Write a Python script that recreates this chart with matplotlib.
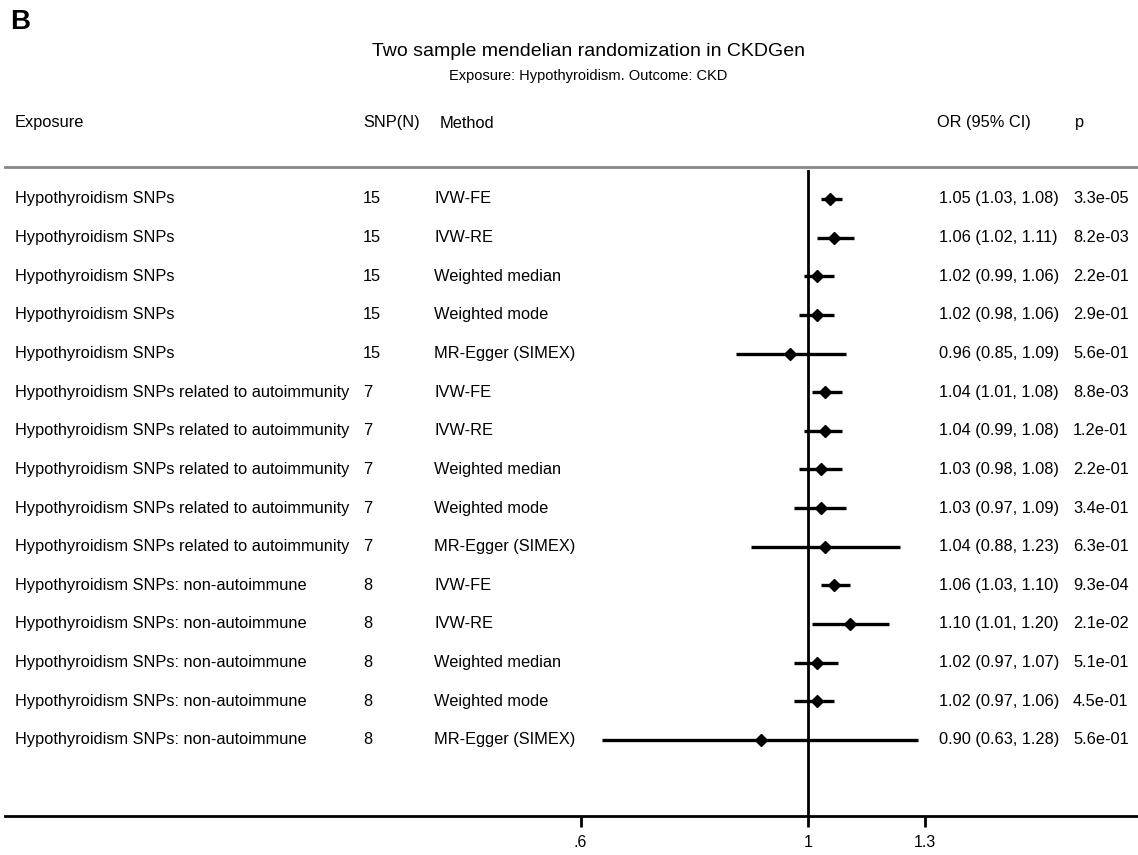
import matplotlib
matplotlib.use("Agg")
import matplotlib.pyplot as plt
from matplotlib.lines import Line2D
from matplotlib.transforms import blended_transform_factory
import numpy as np

plt.rcParams['font.family'] = ['Liberation Sans', 'DejaVu Sans']

exposures = (["Hypothyroidism SNPs"] * 5
             + ["Hypothyroidism SNPs related to autoimmunity"] * 5
             + ["Hypothyroidism SNPs: non-autoimmune"] * 5)
snp_n = ["15"] * 5 + ["7"] * 5 + ["8"] * 5
methods = ["IVW-FE", "IVW-RE", "Weighted median", "Weighted mode", "MR-Egger (SIMEX)"] * 3
or_est = [1.05, 1.06, 1.02, 1.02, 0.96,
          1.04, 1.04, 1.03, 1.03, 1.04,
          1.06, 1.10, 1.02, 1.02, 0.90]
ci_lo = [1.03, 1.02, 0.99, 0.98, 0.85,
         1.01, 0.99, 0.98, 0.97, 0.88,
         1.03, 1.01, 0.97, 0.97, 0.63]
ci_hi = [1.08, 1.11, 1.06, 1.06, 1.09,
         1.08, 1.08, 1.08, 1.09, 1.23,
         1.10, 1.20, 1.07, 1.06, 1.28]
pvals = ["3.3e-05", "8.2e-03", "2.2e-01", "2.9e-01", "5.6e-01",
         "8.8e-03", "1.2e-01", "2.2e-01", "3.4e-01", "6.3e-01",
         "9.3e-04", "2.1e-02", "5.1e-01", "4.5e-01", "5.6e-01"]
xticks = [0.6, 1, 1.3]
xtick_labels = [".6", "1", "1.3"]

W, H = 1138, 855
fig = plt.figure(figsize=(W / 100, H / 100), dpi=100)

# plot area: x 5..1138 px, y 170..816 px
ax = fig.add_axes([5 / W, 1 - 816 / H, 1 - 5 / W, (816 - 170) / H])
ax.set_xscale('log')
ax.set_xlim(0.1646, 2.099)
ax.set_ylim(16.97, 0.25)

rows = np.arange(1, len(or_est) + 1)
ax.hlines(rows, ci_lo, ci_hi, color='black', lw=2.4, zorder=3)
ax.plot(or_est, rows, 'D', color='black', ms=6.5, zorder=4)
ax.axvline(1, color='black', lw=2, zorder=2)

for s in ['top', 'left', 'right']:
    ax.spines[s].set_visible(False)
ax.spines['bottom'].set_linewidth(2)
ax.set_yticks([])
ax.set_xticks(xticks)
ax.set_xticklabels(xtick_labels, fontsize=11.5)
ax.xaxis.set_minor_locator(matplotlib.ticker.NullLocator())
ax.tick_params(axis='x', length=8, width=2, pad=6)

tr = blended_transform_factory(fig.transFigure, ax.transData)
fs = 11.8
for i, r in enumerate(rows):
    ax.text(15 / W, r, exposures[i], transform=tr, va='center', fontsize=fs)
    ax.text(363 / W, r, snp_n[i], transform=tr, va='center', fontsize=fs)
    ax.text(434 / W, r, methods[i], transform=tr, va='center', fontsize=fs)
    ax.text(939 / W, r, f"{or_est[i]:.2f} ({ci_lo[i]:.2f}, {ci_hi[i]:.2f})",
            transform=tr, va='center', fontsize=fs)
    ax.text(1073 / W, r, pvals[i], transform=tr, va='center', fontsize=fs)

# header
hy = 1 - 123 / H
fig.text(15 / W, hy, "Exposure", va='center', fontsize=fs)
fig.text(363 / W, hy, "SNP(N)", va='center', fontsize=fs)
fig.text(440 / W, hy, "Method", va='center', fontsize=fs)
fig.text(937 / W, hy, "OR (95% CI)", va='center', fontsize=fs)
fig.text(1075 / W, hy, "p", va='center', fontsize=fs)
fig.add_artist(Line2D([5 / W, 1], [1 - 167 / H] * 2, color='#888888', lw=2,
                      transform=fig.transFigure))

fig.text(588 / W, 1 - 52 / H, "Two sample mendelian randomization in CKDGen",
         ha='center', va='center', fontsize=14)
fig.text(588 / W, 1 - 76 / H, "Exposure: Hypothyroidism. Outcome: CKD",
         ha='center', va='center', fontsize=10.5)
fig.text(10 / W, 1 - 22 / H, "B", ha='left', va='center', fontsize=20,
         fontweight='bold')

fig.savefig("out.png", dpi=100)
